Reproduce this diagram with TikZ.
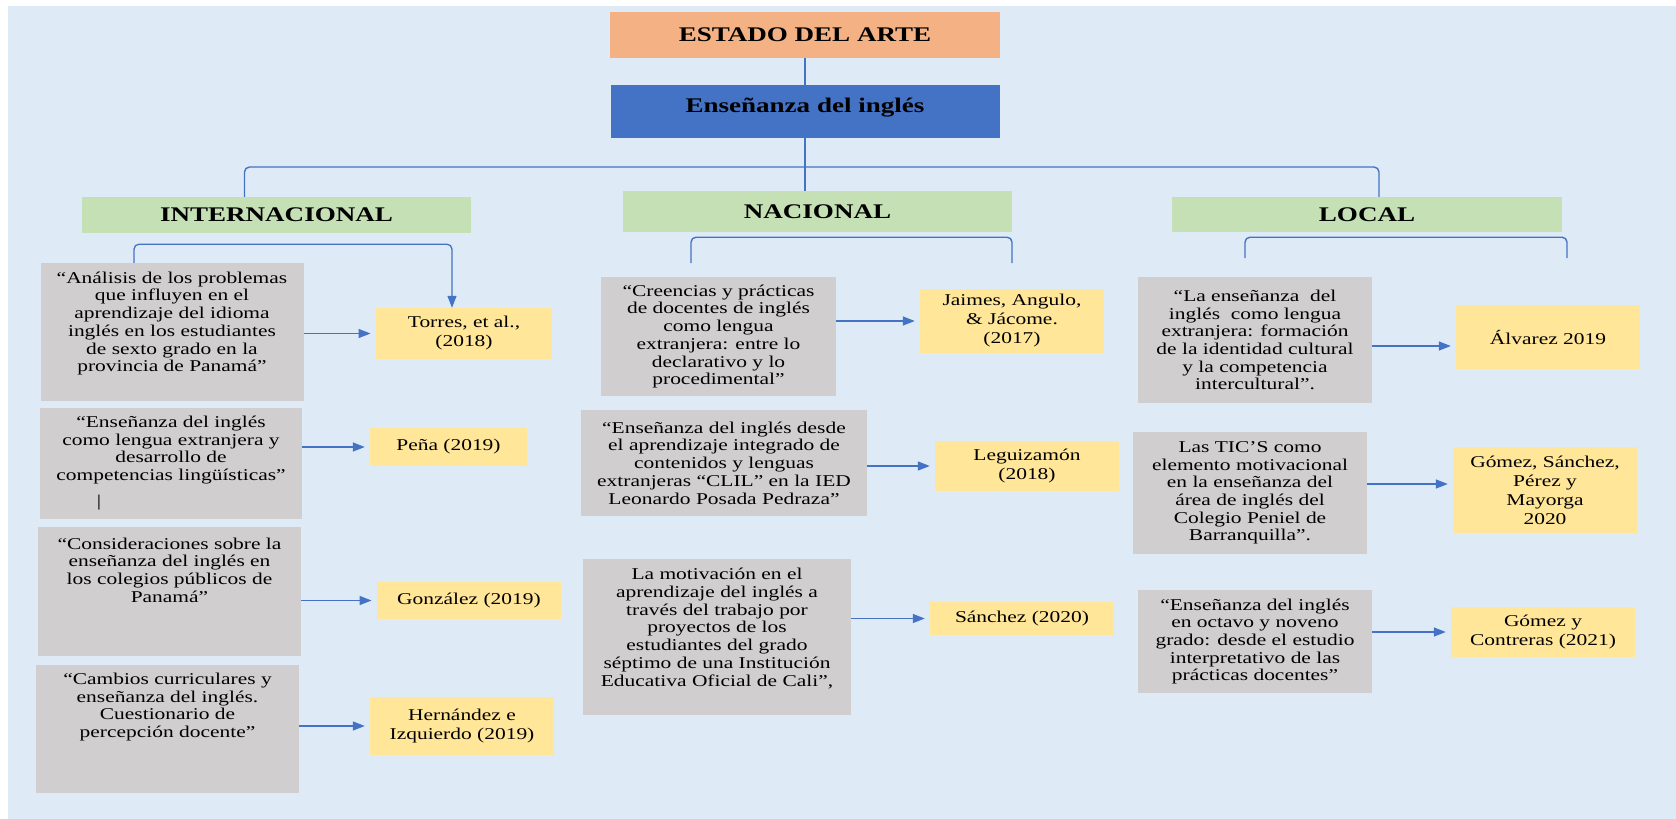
\documentclass[tikz,border=0pt]{standalone}
\usepackage{fontspec}
\setmainfont{Liberation Serif}[FakeStretch=1.3]
\usetikzlibrary{positioning,arrows.meta}

\definecolor{fondo}{HTML}{DEEBF7}
\definecolor{naranja}{HTML}{F4B183}
\definecolor{azul}{HTML}{4472C4}
\definecolor{verde}{HTML}{C5E0B4}
\definecolor{gris}{HTML}{D0CECE}
\definecolor{amarillo}{HTML}{FFE699}

\begin{document}
\begin{tikzpicture}[
    x=1pt, y=-1pt,
    caja/.style={rectangle, inner sep=0pt, align=center},
    titulo/.style={caja, font=\fontsize{20.8}{24}\selectfont\bfseries},
    tema/.style={caja, fill=gris, font=\fontsize{16.5}{17.7}\selectfont},
    texto/.style={caja, font=\fontsize{16.5}{17.7}\selectfont},
    autor/.style={caja, fill=amarillo, font=\fontsize{16.5}{19}\selectfont},
    linea/.style={azul, line width=1.4pt, rounded corners=5pt},
    flecha/.style={-{Triangle[length=12pt, width=9pt]}, azul, line width=1.3pt, shorten >=5pt}
  ]
  \useasboundingbox (0,0) rectangle (1676,819);
  \fill[fondo] (8,6) rectangle (1676,819);

  % Encabezados
  \node[titulo, fill=naranja, minimum width=390pt, minimum height=46pt] (estado) at (805,34.5) {ESTADO DEL ARTE};
  \node[titulo, fill=azul, minimum width=389pt, minimum height=53pt, text depth=13pt] (ensenanza) at (805,111.5) {Enseñanza del inglés};
  \node[titulo, fill=verde, minimum width=389pt, minimum height=36pt] (inter) at (276.5,215) {INTERNACIONAL};
  \node[titulo, fill=verde, minimum width=389pt, minimum height=41pt] (nacional) at (817.5,211.5) {NACIONAL};
  \node[titulo, fill=verde, minimum width=390pt, minimum height=35pt] (local) at (1367,214.5) {LOCAL};

  % Internacional
  \node[tema, minimum width=263pt, minimum height=138pt] (t1) at (172,332) {};
  \node[texto] (t1txt) at ([yshift=8.5pt]t1) {“Análisis de los problemas\\que influyen en el\\aprendizaje del idioma\\inglés en los estudiantes\\de sexto grado en la\\provincia de Panamá”};
  \node[tema, minimum width=262pt, minimum height=111pt] (t2) at (171,463.5) {};
  \node[texto] (t2txt) at ([yshift=13.5pt]t2) {“Enseñanza del inglés\\como lengua extranjera y\\desarrollo de\\competencias lingüísticas”};
  \node[texto] (cursor) at (99,503) {|};
  \node[tema, minimum width=263pt, minimum height=129pt] (t3) at (169.5,591.5) {};
  \node[texto] (t3txt) at ([yshift=21.5pt]t3) {“Consideraciones sobre la\\enseñanza del inglés en\\los colegios públicos de\\Panamá”};
  \node[tema, minimum width=263pt, minimum height=128pt] (t4) at (167.5,729) {};
  \node[texto] (t4txt) at ([yshift=22pt]t4) {“Cambios curriculares y\\enseñanza del inglés.\\Cuestionario de\\percepción docente”};

  \node[autor, minimum width=176.5pt, minimum height=51pt] (torres) at (464,333.5) {Torres, et al.,\\(2018)};
  \node[autor, minimum width=157pt, minimum height=38pt] (pena) at (448.5,447) {Peña (2019)};
  \node[autor, minimum width=184.5pt, minimum height=37pt] (gonzalez) at (469,600.5) {González (2019)};
  \node[autor, minimum width=184pt, minimum height=58pt] (hernandez) at (462,726) {Hernández e\\Izquierdo (2019)};

  % Nacional
  \node[tema, minimum width=235pt, minimum height=119pt] (n1) at (718.5,336.5) {“Creencias y prácticas\\de docentes de inglés\\como lengua\\extranjera: entre lo\\declarativo y lo\\procedimental”};
  \node[tema, minimum width=286.5pt, minimum height=106pt] (n2) at (724,463) {“Enseñanza del inglés desde\\el aprendizaje integrado de\\contenidos y lenguas\\extranjeras “CLIL” en la IED\\Leonardo Posada Pedraza”};
  \node[tema, minimum width=268.5pt, minimum height=156pt] (n3) at (717,637) {};
  \node[texto] (n3txt) at ([yshift=8.5pt]n3) {La motivación en el\\aprendizaje del inglés a\\través del trabajo por\\proyectos de los\\estudiantes del grado\\séptimo de una Institución\\Educativa Oficial de Cali”,};

  \node[autor, minimum width=184pt, minimum height=64pt] (jaimes) at (1012,321) {Jaimes, Angulo,\\\& Jácome.\\(2017)};
  \node[autor, minimum width=184pt, minimum height=50pt] (leguizamon) at (1027,466) {Leguizamón\\(2018)};
  \node[autor, minimum width=184pt, minimum height=33pt] (sanchez) at (1022,618.5) {Sánchez (2020)};

  % Local
  \node[tema, minimum width=234pt, minimum height=126pt] (l1) at (1255,340) {“La enseñanza\ \ del\\inglés\ \ como lengua\\extranjera: formación\\de la identidad cultural\\y la competencia\\intercultural”.};
  \node[tema, minimum width=234pt, minimum height=122pt] (l2) at (1250,493) {Las TIC’S como\\elemento motivacional\\en la enseñanza del\\área de inglés del\\Colegio Peniel de\\Barranquilla”.};
  \node[tema, minimum width=234pt, minimum height=103pt] (l3) at (1255,641.5) {“Enseñanza del inglés\\en octavo y noveno\\grado: desde el estudio\\interpretativo de las\\prácticas docentes”};

  \node[autor, minimum width=184pt, minimum height=64pt] (alvarez) at (1548,337) {Álvarez 2019};
  \node[autor, minimum width=184pt, minimum height=86pt] (gomez) at (1545,490) {Gómez, Sánchez,\\Pérez y\\Mayorga\\2020};
  \node[autor, minimum width=184pt, minimum height=50pt] (contreras) at (1543,632) {Gómez y\\Contreras (2021)};

  % Jerarquia
  \draw[linea] (estado) -- (ensenanza);
  \draw[linea] (ensenanza.south) -- (ensenanza.south |- nacional.north);
  \coordinate (eje) at (805,167);
  \draw[linea] ([xshift=-32pt]inter.north) |- (eje) -| ([xshift=12pt]local.north);

  % Llaves
  \draw[flecha, rounded corners=5pt, shorten >=0pt] ([xshift=-38pt]t1.north) |- ([yshift=-11pt]inter.south) -| ([xshift=-12pt]torres.north);
  \coordinate (nacI) at (691,263);
  \coordinate (nacD) at (1012,263);
  \draw[linea] (nacI) |- ([yshift=-5pt]nacional.south) -| (nacD);
  \coordinate (locI) at (1245,258);
  \coordinate (locD) at (1567,258);
  \draw[linea] (locI) |- ([yshift=-5pt]local.south) -| (locD);

  % Flechas tema -> autor
  \draw[flecha] (t1.east |- torres) -- (torres);
  \draw[flecha] (t2.east |- pena) -- (pena);
  \draw[flecha] (t3.east |- gonzalez) -- (gonzalez);
  \draw[flecha] (t4.east |- hernandez) -- (hernandez);
  \draw[flecha] (n1.east |- jaimes) -- (jaimes);
  \draw[flecha] (n2.east |- leguizamon) -- (leguizamon);
  \draw[flecha] (n3.east |- sanchez) -- (sanchez);
  \draw[flecha, transform canvas={yshift=-9pt}] (l1.east |- alvarez) -- (alvarez);
  \draw[flecha, transform canvas={yshift=6pt}] (l2.east |- gomez) -- (gomez);
  \draw[flecha] (l3.east |- contreras) -- (contreras);
\end{tikzpicture}
\end{document}
